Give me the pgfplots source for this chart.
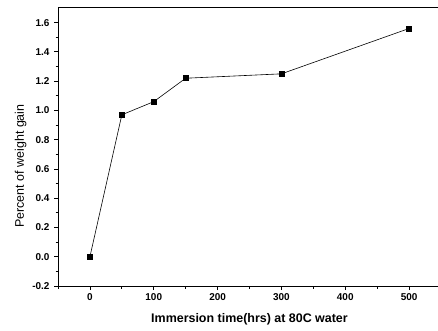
\documentclass[border=0pt]{standalone}
\usepackage{pgfplots}
\pgfplotsset{compat=1.18}
\usepackage{fontspec}
\setmainfont{Liberation Sans}
\begin{document}
\begin{tikzpicture}
\begin{axis}[
  scale only axis,
  width=383bp, height=278bp,
  xmin=-50, xmax=550, ymin=-0.2, ymax=1.7,
  xtick={0,100,200,300,400,500},
  ytick={-0.2,0,0.2,0.4,0.6,0.8,1.0,1.2,1.4,1.6},
  minor xtick={-50,50,150,250,350,450,550},
  minor ytick={-0.1,0.1,0.3,0.5,0.7,0.9,1.1,1.3,1.5},
  tick align=outside,
  tick pos=left,
  major tick length=4bp, minor tick length=2.5bp,
  axis line style={line width=1pt},
  every tick/.style={black, line width=0.8pt},
  /pgf/number format/assume math mode=true,
  /pgf/number format/fixed,
  /pgf/number format/fixed zerofill,
  /pgf/number format/precision=1,
  xticklabel style={font=\fontsize{10}{12}\selectfont\bfseries, /pgf/number format/precision=0, /pgf/number format/fixed zerofill=false},
  yticklabel style={font=\fontsize{10}{12}\selectfont\bfseries, xshift=-1bp},
  scaled ticks=false,
  xlabel={\bfseries Immersion time(hrs) at 80C water},
  ylabel={Percent of weight gain},
  xlabel style={font=\fontsize{12.5}{14}\selectfont, yshift=-6bp},
  ylabel style={font=\fontsize{12.5}{14}\selectfont, yshift=-1bp, xshift=-19bp},
]
\addplot[black, line width=0.6pt, mark=square*, mark size=2.5bp, mark options={solid}] coordinates {
(0,0) (50,0.97) (100,1.06) (150,1.22) (300,1.25) (500,1.56)
};
\end{axis}
\pgfresetboundingbox
\path ([xshift=-58bp,yshift=-44bp]current axis.south west) rectangle ([xshift=-3bp,yshift=8bp]current axis.north east);
\end{tikzpicture}
\end{document}
